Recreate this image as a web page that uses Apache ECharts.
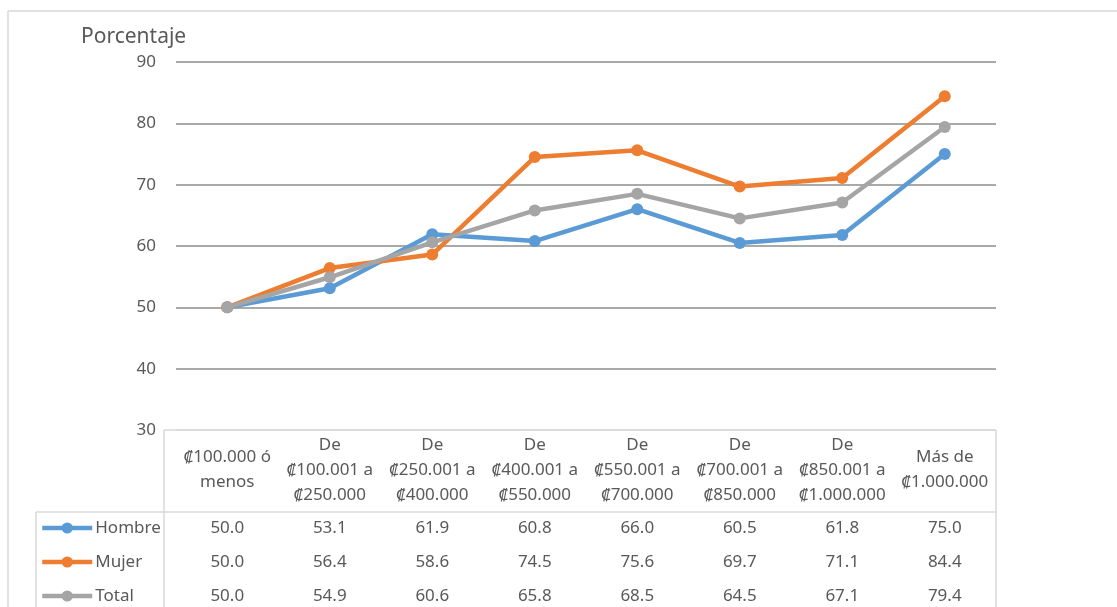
<!DOCTYPE html>
<html>
<head>
<meta charset="utf-8">
<script src="https://cdn.jsdelivr.net/npm/echarts@6/dist/echarts.min.js"></script>
<style>
html,body{margin:0;padding:0;background:#fff;}
#chart{width:1117px;height:607px;}
</style>
</head>
<body>
<div id="chart"></div>
<script>
var categories = ['₡100.000 ó\nmenos', 'De\n₡100.001 a\n₡250.000', 'De\n₡250.001 a\n₡400.000', 'De\n₡400.001 a\n₡550.000',
	'De\n₡550.001 a\n₡700.000', 'De\n₡700.001 a\n₡850.000', 'De\n₡850.001 a\n₡1.000.000', 'Más de\n₡1.000.000'];
var hombre = [50.0, 53.1, 61.9, 60.8, 66.0, 60.5, 61.8, 75.0];
var mujer = [50.0, 56.4, 58.6, 74.5, 75.6, 69.7, 71.1, 84.4];
var total = [50.0, 54.9, 60.6, 65.8, 68.5, 64.5, 67.1, 79.4];
var yTicks = {min: 30, max: 90, interval: 10};

var font = "'Noto Sans', 'DejaVu Sans', sans-serif";
var txt = '#595959';
var border = '#d9d9d9';

function rowAxis(values, margin){
	return {
		type: 'category', position: 'bottom', gridIndex: 0, data: categories,
		axisLine: {show: false}, axisTick: {show: false}, splitLine: {show: false},
		axisLabel: {
			margin: margin, verticalAlign: 'middle', color: txt, fontSize: 17, fontFamily: font, interval: 0,
			formatter: function(v, i){ return values[i].toFixed(1); }
		}
	};
}

function seriesOf(name, data, color){
	return {
		name: name, type: 'line', data: data,
		symbol: 'circle', symbolSize: 12,
		lineStyle: {width: 4.5, color: color},
		itemStyle: {color: color}
	};
}

function hline(x1, y, x2){ return {type: 'line', shape: {x1: x1, y1: y, x2: x2, y2: y}, style: {stroke: border, lineWidth: 1.5}, z: 100}; }
function vline(x, y1, y2){ return {type: 'line', shape: {x1: x, y1: y1, x2: x, y2: y2}, style: {stroke: border, lineWidth: 1.5}, z: 100}; }

var chart = echarts.init(document.getElementById('chart'));
chart.setOption({
	backgroundColor: '#fff',
	animation: false,
	color: ['#5b9bd5', '#ed7d31', '#a5a5a5'],
	grid: {left: 176, right: 121, top: 62, bottom: 177},
	legend: {
		orient: 'vertical', left: 40, top: 518, padding: 0, itemGap: 14,
		itemWidth: 50, itemHeight: 14,
		lineStyle: {width: 4.5},
		textStyle: {color: txt, fontSize: 17, fontFamily: font, lineHeight: 20, padding: [0, 0, 0, -2]},
		data: ['Hombre', 'Mujer', 'Total']
	},
	graphic: [
		{type: 'text', left: 81, top: 27, style: {text: 'Porcentaje', fill: txt, fontSize: 21, fontFamily: font}},
		hline(8, 11, 1117), vline(8, 11, 607),
		hline(164, 430, 996), hline(36, 512, 996),
		vline(164, 430, 607), vline(996, 430, 607), vline(36, 512, 607)
	],
	xAxis: [
		{
			type: 'category', position: 'bottom', data: categories,
			axisLine: {show: false}, axisTick: {show: false},
			axisLabel: {margin: 40, verticalAlign: 'middle', color: txt, fontSize: 17, lineHeight: 25, fontFamily: font, interval: 0}
		},
		rowAxis(hombre, 98),
		rowAxis(mujer, 132),
		rowAxis(total, 166)
	],
	yAxis: {
		type: 'value', min: yTicks.min, max: yTicks.max, interval: yTicks.interval,
		axisLine: {show: false}, axisTick: {show: false},
		axisLabel: {margin: 20, color: txt, fontSize: 17, fontFamily: font},
		splitLine: {lineStyle: {color: [border, '#8c8c8c', '#8c8c8c', '#8c8c8c', '#8c8c8c', '#8c8c8c', '#8c8c8c'], width: 1.5}}
	},
	series: [
		seriesOf('Hombre', hombre, '#5b9bd5'),
		seriesOf('Mujer', mujer, '#ed7d31'),
		seriesOf('Total', total, '#a5a5a5')
	]
});
</script>
</body>
</html>
